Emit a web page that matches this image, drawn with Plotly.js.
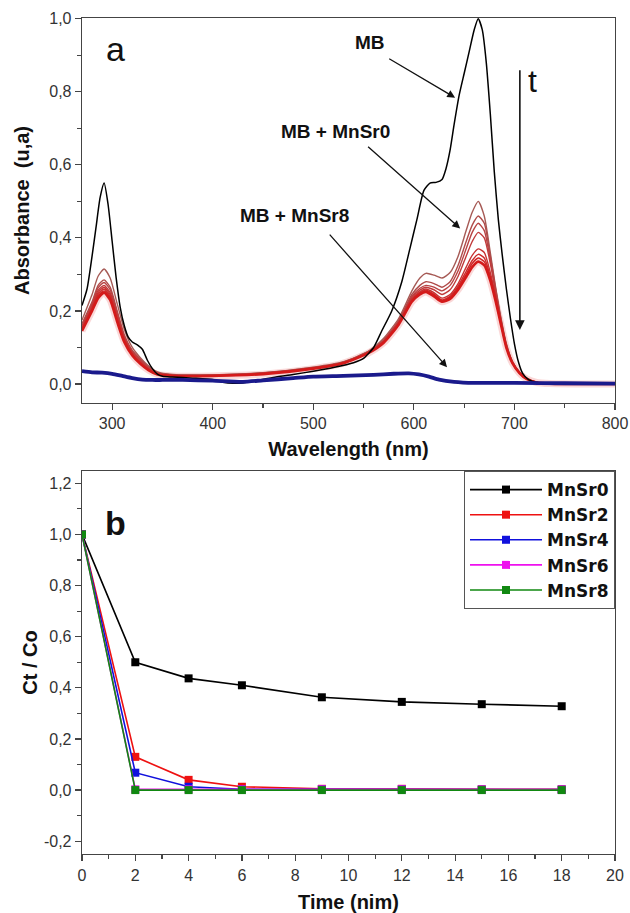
<!DOCTYPE html>
<html>
<head>
<meta charset="utf-8">
<script src="https://cdn.plot.ly/plotly-3.0.1.min.js"></script>
<style>html,body{margin:0;padding:0;background:#fff;}#chart{width:630px;height:913px;}</style>
</head>
<body>
<div id="chart"></div>
<script>
// ---------- Panel a : UV-vis spectra ----------
const mbWl  = [270,275,280,284,288,292,296,300,304,308,312,316,320,325,330,335,340,345,350,360,380,400,410,420,430,440,460,480,500,520,540,550,560,568,578,588,596,603,610,616,622,628,632,636,640,645,650,655,660,664,668,672,676,680,684,688,692,696,700,704,708,714,722,740,770,800];
const mbAbs = [0.215,0.26,0.35,0.43,0.51,0.55,0.49,0.39,0.29,0.21,0.16,0.128,0.115,0.107,0.095,0.065,0.042,0.027,0.021,0.019,0.016,0.012,0.005,0.002,0.003,0.008,0.018,0.026,0.035,0.045,0.058,0.07,0.10,0.145,0.20,0.28,0.37,0.45,0.53,0.55,0.552,0.56,0.59,0.64,0.71,0.79,0.85,0.91,0.97,1.0,0.97,0.88,0.74,0.58,0.45,0.35,0.26,0.18,0.11,0.06,0.03,0.012,0.004,0.001,0,0];

const rWl = [270,280,286,292,298,305,312,320,328,336,345,360,400,450,500,530,555,570,585,598,606,612,620,628,636,644,652,658,664,670,676,681,686,692,698,705,712,722,735,760,800];
const red1 = [0.175,0.245,0.295,0.315,0.29,0.22,0.15,0.10,0.072,0.05,0.033,0.026,0.025,0.031,0.046,0.061,0.09,0.125,0.18,0.255,0.29,0.303,0.298,0.29,0.305,0.35,0.42,0.47,0.50,0.46,0.36,0.27,0.19,0.11,0.062,0.033,0.016,0.005,0.001,0,0];
const red2 = [0.165,0.225,0.27,0.285,0.265,0.2,0.135,0.092,0.068,0.047,0.031,0.025,0.025,0.03,0.045,0.06,0.089,0.12,0.175,0.245,0.27,0.28,0.275,0.265,0.28,0.325,0.39,0.435,0.46,0.44,0.35,0.265,0.186,0.108,0.061,0.032,0.016,0.005,0.001,0,0];
const red3 = [0.16,0.22,0.263,0.278,0.258,0.195,0.13,0.09,0.066,0.045,0.03,0.025,0.024,0.03,0.044,0.06,0.088,0.12,0.172,0.24,0.262,0.27,0.265,0.255,0.27,0.31,0.37,0.415,0.44,0.42,0.34,0.26,0.183,0.106,0.06,0.032,0.015,0.005,0.001,0,0];
const red4 = [0.155,0.215,0.256,0.27,0.25,0.19,0.127,0.087,0.063,0.043,0.029,0.024,0.024,0.029,0.044,0.059,0.087,0.118,0.17,0.236,0.257,0.265,0.258,0.245,0.258,0.295,0.35,0.39,0.415,0.40,0.33,0.255,0.18,0.104,0.059,0.031,0.015,0.005,0.001,0,0];
const red5 = [0.152,0.21,0.25,0.265,0.245,0.183,0.123,0.084,0.06,0.041,0.028,0.023,0.023,0.029,0.043,0.058,0.086,0.116,0.168,0.232,0.252,0.26,0.25,0.235,0.245,0.275,0.32,0.352,0.37,0.36,0.305,0.245,0.176,0.102,0.058,0.031,0.015,0.004,0.001,0,0];
const red6 = [0.15,0.206,0.245,0.26,0.24,0.178,0.12,0.082,0.058,0.04,0.027,0.023,0.023,0.028,0.043,0.058,0.086,0.115,0.166,0.23,0.25,0.257,0.246,0.23,0.24,0.268,0.308,0.338,0.355,0.345,0.295,0.24,0.174,0.101,0.058,0.03,0.014,0.004,0.001,0,0];
const red7 = [0.148,0.203,0.24,0.255,0.235,0.174,0.118,0.08,0.057,0.039,0.027,0.022,0.022,0.028,0.042,0.057,0.085,0.114,0.165,0.228,0.248,0.255,0.244,0.228,0.237,0.263,0.30,0.33,0.345,0.335,0.29,0.235,0.172,0.10,0.057,0.03,0.014,0.004,0.001,0,0];
const red8 = [0.145,0.20,0.235,0.25,0.23,0.17,0.115,0.078,0.055,0.038,0.026,0.022,0.022,0.027,0.042,0.057,0.085,0.113,0.163,0.225,0.245,0.252,0.24,0.225,0.233,0.258,0.293,0.32,0.335,0.325,0.283,0.23,0.17,0.099,0.057,0.03,0.014,0.004,0.001,0,0];
const redSeries = [red1,red2,red3,red4,red5,red6,red7,red8];
const redColors = ['#a65a55','#b04c4a','#b84444','#c03b3b','#c73232','#cc2a2a','#d02222','#d41a1a'];

const blWl  = [270,280,290,300,310,320,330,340,350,370,400,430,450,480,500,530,560,580,595,605,615,625,640,660,700,750,800];
const blAbs = [0.035,0.032,0.031,0.028,0.022,0.016,0.012,0.011,0.011,0.011,0.009,0.006,0.01,0.016,0.02,0.022,0.025,0.028,0.029,0.026,0.02,0.012,0.006,0.003,0.003,0.002,0.001];

// ---------- Panel b : kinetics ----------
const time = [0,2,4,6,9,12,15,18];
const seriesNames = ['MnSr0','MnSr2','MnSr4','MnSr6','MnSr8'];
const mnsr0 = [1.0,0.50,0.437,0.41,0.363,0.345,0.336,0.328];
const mnsr2 = [1.0,0.13,0.04,0.013,0.005,0.005,0.003,0.003];
const mnsr4 = [1.0,0.068,0.013,0.003,0.003,0.003,0.002,0.002];
const mnsr6 = [1.0,0.003,0.003,0.003,0.003,0.003,0.002,0.002];
const mnsr8 = [1.0,0.0,0.0,0.0,0.0,0.0,0.0,0.0];
const kinSeries = [mnsr0,mnsr2,mnsr4,mnsr6,mnsr8];
const kinColors = ['#000000','#ee1111','#1111dd','#ee11ee','#118811'];

const yTopVals = [0,0.2,0.4,0.6,0.8,1.0];
const yTopText = ['0,0','0,2','0,4','0,6','0,8','1,0'];
const yBotVals = [-0.2,0,0.2,0.4,0.6,0.8,1.0,1.2];
const yBotText = ['-0,2','0,0','0,2','0,4','0,6','0,8','1,0','1,2'];

const FONT = 'Liberation Sans, Arial, sans-serif';
const TITLE = {family:FONT, size:20, weight:'bold', color:'#111'};
const ANN = {family:FONT, size:19, weight:'bold', color:'#111'};
const traces = [];
// glow behind red band
traces.push({x:rWl, y:red8, xaxis:'x', yaxis:'y', mode:'lines', showlegend:false, hoverinfo:'skip',
  line:{color:'rgba(230,40,40,0.18)', width:7, shape:'spline', smoothing:0.6}});
redSeries.forEach((s,i)=>{
  traces.push({x:rWl, y:s, xaxis:'x', yaxis:'y', mode:'lines', showlegend:false,
    line:{color:redColors[i], width: i===7 ? 2.6 : 1.4, shape:'spline', smoothing:0.6}});
});
traces.push({x:mbWl, y:mbAbs, xaxis:'x', yaxis:'y', mode:'lines', showlegend:false,
  line:{color:'#000', width:1.5, shape:'spline', smoothing:0.6}});
traces.push({x:blWl, y:blAbs, xaxis:'x', yaxis:'y', mode:'lines', showlegend:false,
  line:{color:'#1a1a8c', width:3.8, shape:'spline', smoothing:0.6}});

kinSeries.forEach((s,i)=>{
  traces.push({x:time, y:s, xaxis:'x2', yaxis:'y2', mode:'lines+markers', name:seriesNames[i],
    line:{color:kinColors[i], width:1.6},
    marker:{symbol:'square', size:8, color:kinColors[i]}});
});

const axisCommon = {
  showline:true, mirror:true, linecolor:'#444', linewidth:1.3,
  ticks:'outside', ticklen:6, tickwidth:1.2, tickcolor:'#444',
  showgrid:false, zeroline:false,
  tickfont:{family:FONT, size:16, color:'#333'},
};

const layout = {
  width:630, height:913,
  margin:{l:82, r:15, t:18, b:59},
  paper_bgcolor:'#fff', plot_bgcolor:'#fff',
  font:{family:FONT, color:'#111'},
  xaxis: Object.assign({}, axisCommon, {
    domain:[0,1], anchor:'y', range:[270,800],
    tickmode:'linear', tick0:300, dtick:100,
    minor:{dtick:50, tick0:300, ticks:'outside', ticklen:4, tickcolor:'#444'},
    title:{text:'Wavelength (nm)', font:TITLE, standoff:10}
  }),
  yaxis: Object.assign({}, axisCommon, {
    domain:[0.5395,1], anchor:'x', range:[-0.052,1.002],
    tickmode:'array', tickvals:yTopVals, ticktext:yTopText,
    minor:{dtick:0.1, tick0:0, ticks:'outside', ticklen:4, tickcolor:'#444'},
    title:{text:'Absorbance  (u,a)', font:TITLE, standoff:14}
  }),
  xaxis2: Object.assign({}, axisCommon, {
    domain:[0,1], anchor:'y2', range:[0,20],
    tickmode:'linear', tick0:0, dtick:2,
    minor:{dtick:1, tick0:0, ticks:'outside', ticklen:4, tickcolor:'#444'},
    title:{text:'Time (nim)', font:TITLE, standoff:12}
  }),
  yaxis2: Object.assign({}, axisCommon, {
    domain:[0,0.4581], anchor:'x2', range:[-0.25,1.248],
    tickmode:'array', tickvals:yBotVals, ticktext:yBotText,
    minor:{dtick:0.1, tick0:0, ticks:'outside', ticklen:4, tickcolor:'#444'},
    title:{text:'Ct / Co', font:TITLE, standoff:1}
  }),
  legend:{
    x:1, xanchor:'right', y:0.4581, yanchor:'top',
    bgcolor:'#fff', bordercolor:'#555', borderwidth:1,
    font:{family:'DejaVu Sans, sans-serif', size:17, weight:'bold', color:'#111'},
    itemwidth:72, tracegroupgap:0
  },
  annotations:[
    {xref:'x', yref:'y', x:303, y:0.918, text:'a', showarrow:false, font:{family:FONT, size:34, color:'#111'}},
    {xref:'x', yref:'y', x:556, y:0.934, text:'MB', showarrow:false, font:ANN},
    {xref:'x', yref:'y', x:641, y:0.784, ax:574, ay:0.893, axref:'x', ayref:'y', text:'', showarrow:true,
      arrowhead:2, arrowsize:1.2, arrowwidth:1.3, arrowcolor:'#111'},
    {xref:'x', yref:'y', x:522, y:0.691, text:'MB + MnSr0', showarrow:false, font:ANN},
    {xref:'x', yref:'y', x:646, y:0.426, ax:553, ay:0.653, axref:'x', ayref:'y', text:'', showarrow:true,
      arrowhead:2, arrowsize:1.2, arrowwidth:1.3, arrowcolor:'#111'},
    {xref:'x', yref:'y', x:481, y:0.462, text:'MB + MnSr8', showarrow:false, font:ANN},
    {xref:'x', yref:'y', x:633, y:0.046, ax:515, ay:0.413, axref:'x', ayref:'y', text:'', showarrow:true,
      arrowhead:2, arrowsize:1.2, arrowwidth:1.3, arrowcolor:'#111'},
    {xref:'x', yref:'y', x:705.4, y:0.148, ax:705.4, ay:0.863, axref:'x', ayref:'y', text:'', showarrow:true,
      arrowhead:2, arrowsize:1.2, arrowwidth:1.6, arrowcolor:'#111'},
    {xref:'x', yref:'y', x:718, y:0.83, text:'t', showarrow:false, font:{family:FONT, size:32, color:'#111'}},
    {xref:'x2', yref:'y2', x:1.24, y:1.043, text:'b', showarrow:false, font:{family:FONT, size:34, weight:'bold', color:'#111'}}
  ]
};

Plotly.newPlot('chart', traces, layout, {displayModeBar:false, staticPlot:true});
</script>
</body>
</html>
